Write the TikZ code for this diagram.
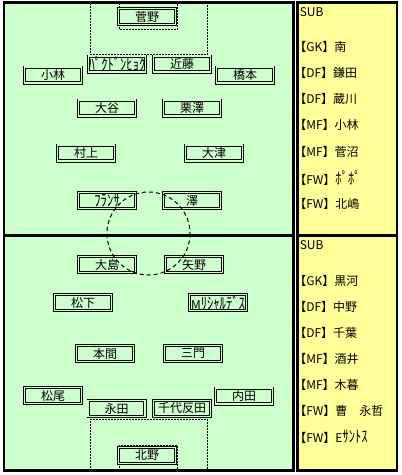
\documentclass[tikz,border=0pt]{standalone}
\usepackage{graphicx}
\usepackage{fontspec}
\setmainfont{Noto Sans CJK JP}
\usetikzlibrary{positioning}
\definecolor{Campo}{RGB}{204,255,204}
\definecolor{Banca}{RGB}{255,255,153}
\newcommand{\hank}[1]{\scalebox{1.05}[1.35]{#1}}

\begin{document}
\begin{tikzpicture}[x=0.75pt, y=-0.75pt,
  jug/.style={rectangle, draw=black, line width=0.65pt,
    double=Campo, double distance=1pt, fill=Campo,
    minimum width=42.7pt, minimum height=11.95pt,
    inner sep=0pt, align=center, font=\fontsize{9}{9}\selectfont},
  res/.style={anchor=west, inner sep=0pt, font=\fontsize{9}{9}\selectfont},
  lin/.style={line width=1.9pt},
  are/.style={line width=0.75pt, dash pattern=on 1.5pt off 0.75pt},
  cir/.style={line width=0.75pt, dash pattern=on 3pt off 2.25pt}
]
\useasboundingbox[fill=white] (0,0) rectangle (401,475);

%% ── Campo ────────────────────────────────────────────────────────────
\draw[lin, fill=Campo] (4,2.5) rectangle (293.5,470.5);
\draw[lin] (4,235.5) -- (293.5,235.5);

\draw[are] (90,2.5) -- (90,54) -- (207,54) -- (207,2.5);
\draw[are] (119,2.5) -- (119,29) -- (177,29) -- (177,2.5);
\draw[are] (90,470.5) -- (90,419) -- (207,419) -- (207,470.5);
\draw[are] (119,470.5) -- (119,445) -- (177,445) -- (177,470.5);

%% ── Equipo de arriba ─────────────────────────────────────────────────
\node[jug] (A1)  at (147, 16.5) {菅野};
\node[jug] (A2)  at (117, 64)   {\hank{ﾊﾟｸﾄﾞﾝﾋｮｸ}};
\node[jug] (A3)  at (182, 64)   {近藤};
\node[jug] (A4)  at (53,  75)   {小林};
\node[jug] (A5)  at (245, 75)   {橋本};
\node[jug] (A6)  at (107, 108)  {大谷};
\node[jug] (A7)  at (192, 108)  {栗澤};
\node[jug] (A8)  at (86,  153)  {村上};
\node[jug] (A9)  at (214, 153)  {大津};
\node[jug] (A10) at (107, 200.5) {\hank{ﾌﾗﾝｻ}};
\node[jug] (A11) at (192, 200.5) {澤};

%% ── Equipo de abajo ──────────────────────────────────────────────────
\node[jug] (B1)  at (107, 264.5) {大島};
\node[jug] (B2)  at (194, 264.5) {矢野};
\node[jug] (B3)  at (83,  302.5) {松下};
\node[jug] (B4)  at (218, 302.5) {M\hank{ﾘｼｬﾙﾃﾞｽ}};
\node[jug] (B5)  at (105, 353.5) {本間};
\node[jug] (B6)  at (193, 353.5) {三門};
\node[jug] (B7)  at (53,  395.5) {松尾};
\node[jug] (B8)  at (244, 396)   {内田};
\node[jug] (B9)  at (116.5, 408.5) {永田};
\node[jug] (B10) at (182, 408.5) {千代反田};
\node[jug] (B11) at (147, 455.5) {北野};

%% ── Círculo central ──────────────────────────────────────────────────
\draw[cir] (148.5,233.5) circle[radius=41.5];

%% ── Suplentes ────────────────────────────────────────────────────────
\draw[lin, fill=Banca] (297.5,2.5) rectangle (397,470.5);
\draw[lin] (297.5,235.5) -- (397,235.5);

\node[res] (SA)  at (299.5, 12)     {SUB};
\node[res] (SA1) at (294, 46.5)    {【GK】南};
\node[res] (SA2) at (294, 72.75)   {【DF】鎌田};
\node[res] (SA3) at (294, 99)      {【DF】蔵川};
\node[res] (SA4) at (294, 125.25)  {【MF】小林};
\node[res] (SA5) at (294, 151.5)   {【MF】菅沼};
\node[res] (SA6) at (294, 177.75)  {【FW】\hank{ﾎﾟﾎﾟ}};
\node[res] (SA7) at (294, 204)     {【FW】北嶋};

\node[res] (SB)  at (299.5, 245.5) {SUB};
\node[res] (SB1) at (294, 281)     {【GK】黒河};
\node[res] (SB2) at (294, 307)     {【DF】中野};
\node[res] (SB3) at (294, 333)     {【DF】千葉};
\node[res] (SB4) at (294, 359)     {【MF】酒井};
\node[res] (SB5) at (294, 385)     {【MF】木暮};
\node[res] (SB6) at (294, 411)     {【FW】曹　永哲};
\node[res] (SB7) at (294, 437)     {【FW】E\hank{ｻﾝﾄｽ}};

\end{tikzpicture}
\end{document}
